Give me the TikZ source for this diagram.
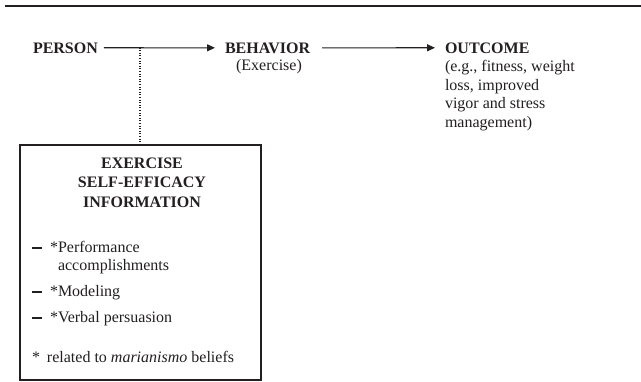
\documentclass[tikz,border=0pt]{standalone}
\usepackage{fontspec}
\setmainfont{Liberation Serif}
\usetikzlibrary{arrows.meta}
\definecolor{ink}{RGB}{35,31,32}
\newcommand{\itemdash}{\rule[3.2pt]{9.5pt}{2.2pt}}
\begin{document}
\begin{tikzpicture}[x=1pt,y=-1pt,
  txt/.style={inner sep=0pt, outer sep=0pt, text=ink, font=\fontsize{16}{18.5}\selectfont},
  btxt/.style={txt, font=\fontsize{16}{19.5}\selectfont\bfseries},
  flow/.style={draw=ink, line width=1.1pt, -{Triangle[length=8pt,width=7pt]}},
  dots/.style={draw=ink, line width=1.2pt, dash pattern=on 1pt off 1.6pt},
  frame/.style={draw=ink, line width=2.5pt, inner sep=0pt, outer sep=0pt}
]
\useasboundingbox (0,0) rectangle (641,381);
\draw[ink, line width=2.6pt] (5,6) -- (641,6);

\node[btxt, anchor=base west] (person) at (33,53) {PERSON};
\node[btxt, anchor=base west] (behavior) at (225,53) {BEHAVIOR};
\node[txt, anchor=base] (exercise) at (269,70) {(Exercise)};
\node[btxt, anchor=base west] (outcome) at (445,53) {OUTCOME};
\node[txt, anchor=north west, align=left] (outdesc) at (445,60.5) {(e.g., fitness, weight\\loss, improved\\vigor and stress\\management)};

\draw[flow, shorten <=6pt, shorten >=10pt] (person.east) -- (behavior.west);
\draw[flow, shorten <=12pt, shorten >=10pt] (behavior.east) -- (outcome.west);

\node[frame, minimum width=241pt, minimum height=235pt, anchor=north west] (box) at (20,145) {};
\coordinate (tap) at (140,47.5);
\draw[dots] (tap) -- (tap |- box.north);

\node[btxt, anchor=north, align=center] (title) at (142,157.5) {EXERCISE\\SELF-EFFICACY\\INFORMATION};

\node[txt, anchor=base west] (d1) at (32,252) {\itemdash};
\node[txt, anchor=north west, align=left] (i1) at (50,241) {*Performance\\\phantom{*}accomplishments};
\node[txt, anchor=base west] (d2) at (32,296) {\itemdash};
\node[txt, anchor=base west] (i2) at (50,296) {*Modeling};
\node[txt, anchor=base west] (d3) at (32,322) {\itemdash};
\node[txt, anchor=base west] (i3) at (50,322) {*Verbal persuasion};
\node[txt, anchor=base west] (note) at (32,362) {*\hspace{7pt}related to \textit{marianismo} beliefs};
\end{tikzpicture}
\end{document}
